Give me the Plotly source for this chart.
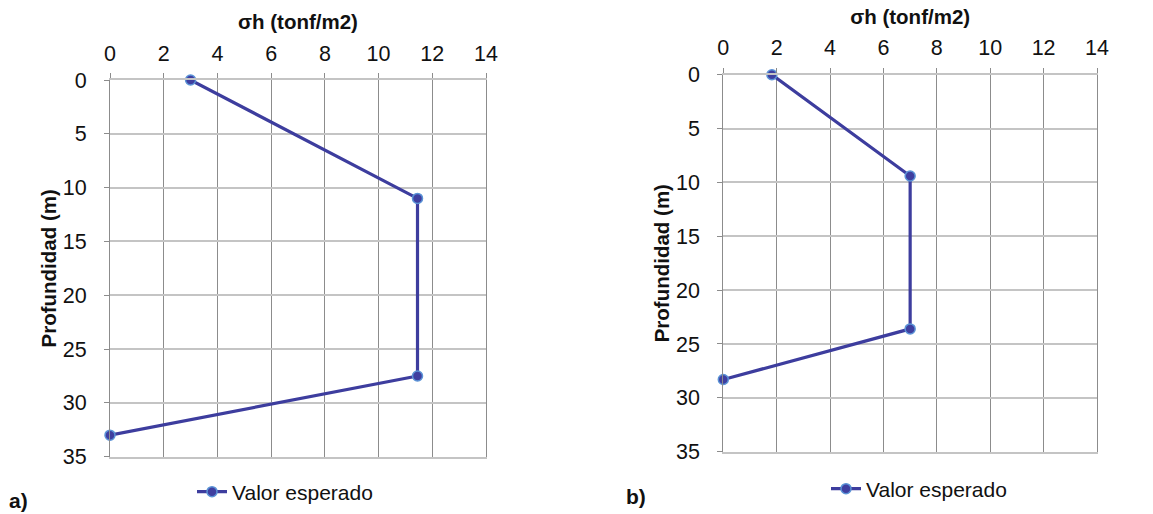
import plotly.graph_objects as go

# Data
sigma_a = [3.0, 11.45, 11.45, 0.0]
depth_a = [0.0, 11.0, 27.5, 33.0]
sigma_b = [1.82, 7.0, 7.0, 0.0]
depth_b = [0.0, 9.4, 23.6, 28.3]
series_name = "Valor esperado"
x_title = "σh (tonf/m2)"
y_title = "Profundidad (m)"
panel_labels = ["a)", "b)"]

W, H = 1153, 514
line_col = "#3d3d9e"
marker_col = "#3f3fa0"
marker_edge = "#5b93d6"
vgrid = "#8c8c8c"
hgrid = "#c4c4c4"
font_family = "Liberation Sans, Arial, sans-serif"

fig = go.Figure()
fig.add_trace(go.Scatter(
    x=sigma_a, y=depth_a, mode="lines+markers", name=series_name, showlegend=True,
    line=dict(color=line_col, width=3.2), cliponaxis=False, legendgroup="a",
    marker=dict(size=10, color=marker_col, line=dict(color=marker_edge, width=1.5)),
    xaxis="x", yaxis="y", legend="legend"))
fig.add_trace(go.Scatter(
    x=sigma_b, y=depth_b, mode="lines+markers", name=series_name, showlegend=True,
    line=dict(color=line_col, width=3.2), cliponaxis=False, legendgroup="b",
    marker=dict(size=10, color=marker_col, line=dict(color=marker_edge, width=1.5)),
    xaxis="x2", yaxis="y2", legend="legend2"))

def xax(domain, anchor):
    return dict(domain=domain, anchor=anchor, range=[0, 14], dtick=2, side="top",
                automargin=False,
                showgrid=True, gridcolor=vgrid, gridwidth=1, zeroline=False,
                showline=True, linecolor=hgrid, linewidth=1.8, mirror=True,
                ticks="outside", ticklen=5, tickcolor=vgrid, ticklabelstandoff=4,
                tickfont=dict(size=21.5, color="#111111"),
                title=dict(text="<b>" + x_title + "</b>", font=dict(size=20.5, color="#111111"), standoff=6))

def yax(domain, anchor):
    return dict(domain=domain, anchor=anchor, range=[35, 0], dtick=5,
                automargin=False,
                showgrid=True, gridcolor=hgrid, gridwidth=1.8, zeroline=False,
                showline=True, linecolor=vgrid, linewidth=1, mirror=True,
                ticks="outside", ticklen=5, tickcolor=vgrid, ticklabelstandoff=13,
                tickfont=dict(size=21.5, color="#111111"),
                title=dict(text="<b>" + y_title + "</b>", font=dict(size=20.5, color="#111111"), standoff=0))

fig.update_layout(
    width=W, height=H, margin=dict(l=0, r=0, t=0, b=0, pad=0, autoexpand=False),
    paper_bgcolor="white", plot_bgcolor="white", showlegend=True,
    font=dict(family=font_family, color="#111111"),
    xaxis=xax([110 / W, 486 / W], "y"),
    yaxis=yax([1 - 456.7 / H, 1 - 80 / H], "x"),
    xaxis2=xax([723.3 / W, 1097 / W], "y2"),
    yaxis2=yax([1 - 451.7 / H, 1 - 74.7 / H], "x2"),
    legend=dict(x=192 / W, y=1 - 492 / H, xanchor="left", yanchor="middle",
                orientation="h", font=dict(size=21, color="#111111"),
                bgcolor="rgba(0,0,0,0)"),
    legend2=dict(x=826 / W, y=1 - 489 / H, xanchor="left", yanchor="middle",
                 orientation="h", font=dict(size=21, color="#111111"),
                 bgcolor="rgba(0,0,0,0)"),
    annotations=[
        dict(text="<b>" + panel_labels[0] + "</b>", x=7 / W, y=1 - 500 / H, xref="paper", yref="paper",
             xanchor="left", yanchor="middle", showarrow=False, font=dict(size=21, color="#111111")),
        dict(text="<b>" + panel_labels[1] + "</b>", x=624 / W, y=1 - 496 / H, xref="paper", yref="paper",
             xanchor="left", yanchor="middle", showarrow=False, font=dict(size=21, color="#111111")),
    ],
)

fig.write_html("out.html")
